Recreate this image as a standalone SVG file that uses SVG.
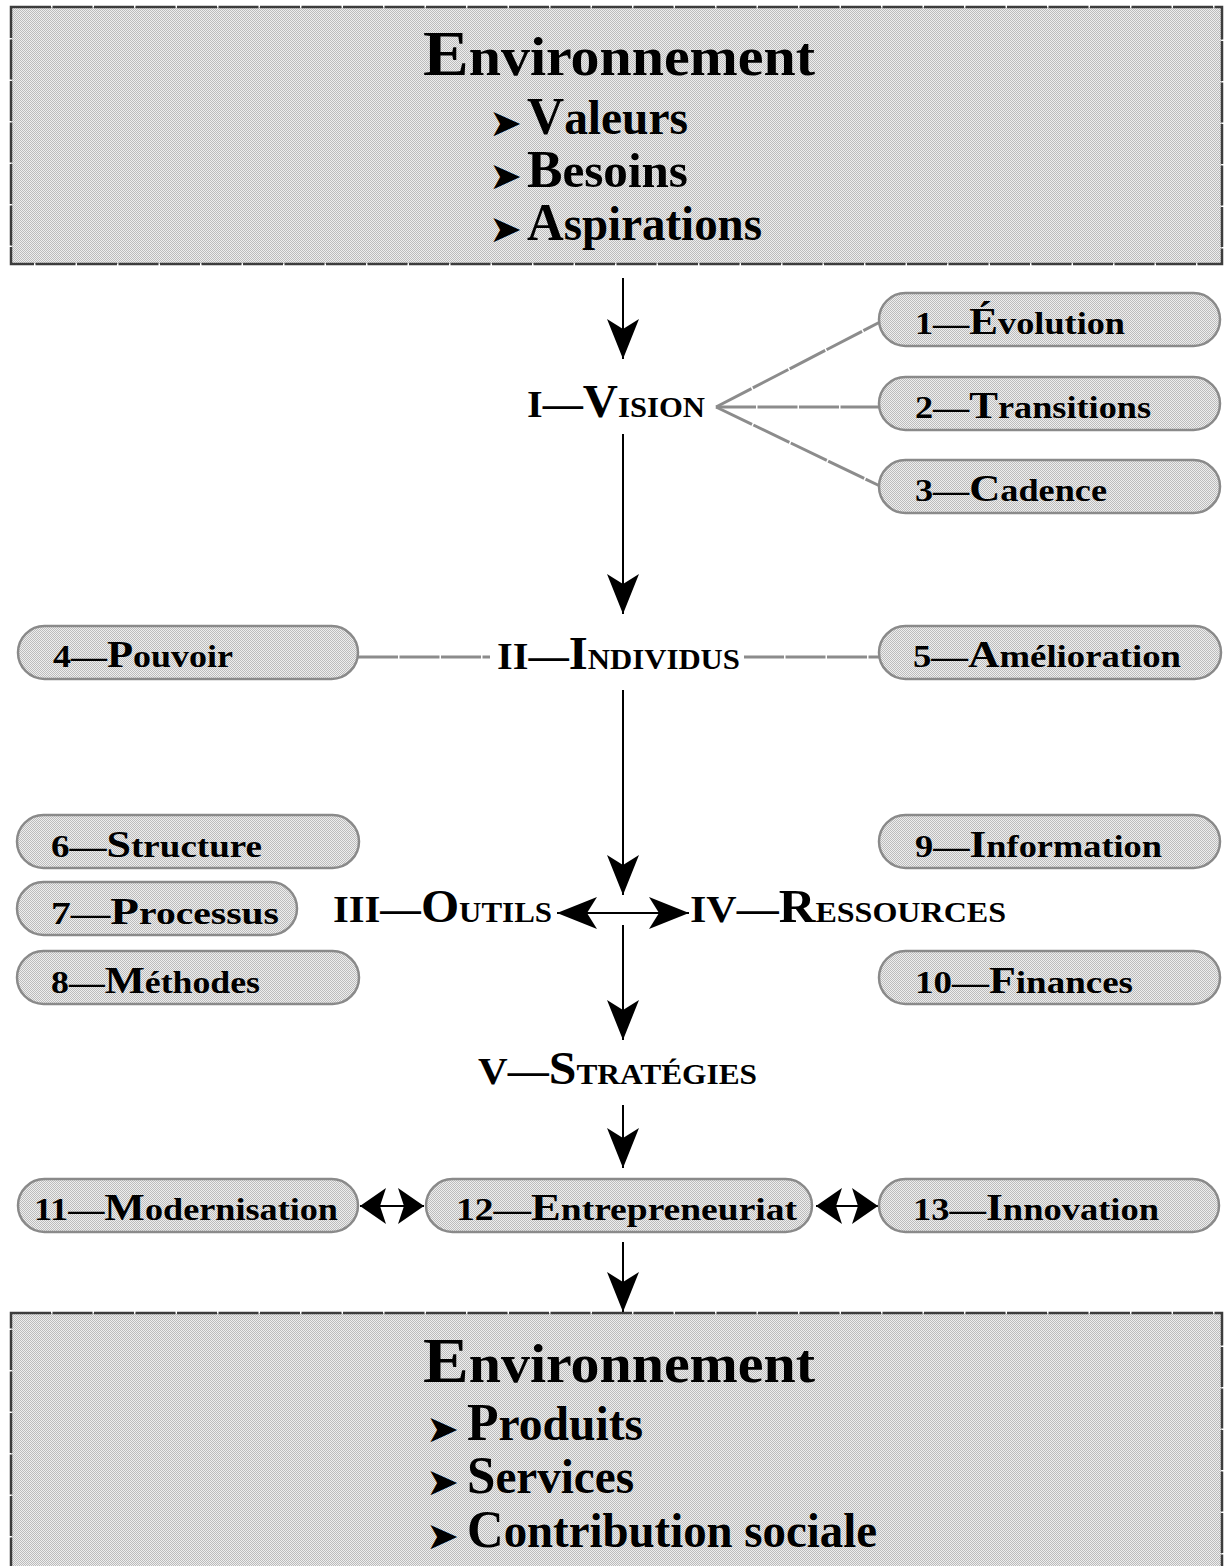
<svg xmlns="http://www.w3.org/2000/svg" width="1231" height="1566" viewBox="0 0 1231 1566">
<style>
  text { font-family: "Liberation Serif", "Times New Roman", serif; fill: #000; }
  .env { font-weight: bold; font-size: 54px; }
  .envcap { font-size: 64px; }
  .item { font-weight: bold; font-size: 48px; }
  .itemcap { font-size: 52px; }
  .bullet { font-family: "DejaVu Sans", sans-serif; font-size: 38px; }
  .hd { font-weight: bold; font-size: 38px; }
  .hdbig { font-size: 46px; }
  .hdsc { font-size: 29px; }
  .lbl { font-weight: bold; font-size: 32px; }
  .lblcap { font-size: 38px; }
  .bigbox { fill: url(#dots); stroke: #3c3c3c; stroke-width: 2.5; stroke-dasharray: 40 1.5; }
  .pill { fill: url(#dots); stroke: #8a8a8a; stroke-width: 2.5; }
  .gray { stroke: #8c8c8c; stroke-width: 3; fill: none; stroke-dasharray: 40 1.5; }
  .arrow { stroke: #000; stroke-width: 2; fill: none; }
</style>
<defs>
  <pattern id="dots" patternUnits="userSpaceOnUse" x="0" y="0" width="2" height="2">
    <rect width="2" height="2" fill="#eeeeee"/>
    <rect width="1" height="1" fill="#bcbcbc"/>
    <rect x="1" y="1" width="1" height="1" fill="#bcbcbc"/>
  </pattern>
  <marker id="head" markerUnits="userSpaceOnUse" viewBox="0 0 40 32" refX="40" refY="16" markerWidth="40" markerHeight="32" orient="auto-start-reverse">
    <path d="M0,0 L40,16 L0,32 L10,16 z" fill="#000"/>
  </marker>
  <marker id="small" markerUnits="userSpaceOnUse" viewBox="0 0 26 36" refX="26" refY="18" markerWidth="26" markerHeight="36" orient="auto-start-reverse">
    <path d="M0,0 L26,18 L0,36 L6,18 z" fill="#000"/>
  </marker>
</defs>

<g id="env-top">
  <rect class="bigbox" x="11" y="7" width="1211" height="257"/>
  <text class="env" x="423" y="75" textLength="392" lengthAdjust="spacingAndGlyphs"><tspan class="envcap">E</tspan>nvironnement</text>
  <text class="bullet" x="489" y="136" textLength="33" lengthAdjust="spacingAndGlyphs">➤</text>
  <text class="item" x="527" y="134" textLength="161" lengthAdjust="spacingAndGlyphs"><tspan class="itemcap">V</tspan>aleurs</text>
  <text class="bullet" x="489" y="189" textLength="33" lengthAdjust="spacingAndGlyphs">➤</text>
  <text class="item" x="527" y="187" textLength="161" lengthAdjust="spacingAndGlyphs"><tspan class="itemcap">B</tspan>esoins</text>
  <text class="bullet" x="489" y="242" textLength="33" lengthAdjust="spacingAndGlyphs">➤</text>
  <text class="item" x="527" y="240" textLength="235" lengthAdjust="spacingAndGlyphs"><tspan class="itemcap">A</tspan>spirations</text>
</g>

<g id="env-bottom">
  <rect class="bigbox" x="11" y="1313" width="1211" height="270"/>
  <text class="env" x="423" y="1382" textLength="392" lengthAdjust="spacingAndGlyphs"><tspan class="envcap">E</tspan>nvironnement</text>
  <text class="bullet" x="426" y="1442" textLength="33" lengthAdjust="spacingAndGlyphs">➤</text>
  <text class="item" x="467" y="1440" textLength="176" lengthAdjust="spacingAndGlyphs"><tspan class="itemcap">P</tspan>roduits</text>
  <text class="bullet" x="426" y="1495" textLength="33" lengthAdjust="spacingAndGlyphs">➤</text>
  <text class="item" x="467" y="1493" textLength="167" lengthAdjust="spacingAndGlyphs"><tspan class="itemcap">S</tspan>ervices</text>
  <text class="bullet" x="426" y="1549" textLength="33" lengthAdjust="spacingAndGlyphs">➤</text>
  <text class="item" x="467" y="1547" textLength="410" lengthAdjust="spacingAndGlyphs"><tspan class="itemcap">C</tspan>ontribution sociale</text>
</g>

<g id="connectors">
  <line class="arrow" x1="623" y1="278" x2="623" y2="359" marker-end="url(#head)"/>
  <line class="arrow" x1="623" y1="434" x2="623" y2="614" marker-end="url(#head)"/>
  <line class="arrow" x1="623" y1="690" x2="623" y2="895" marker-end="url(#head)"/>
  <line class="arrow" x1="557" y1="913" x2="689" y2="913" marker-start="url(#head)" marker-end="url(#head)"/>
  <line class="arrow" x1="623" y1="925" x2="623" y2="1040" marker-end="url(#head)"/>
  <line class="arrow" x1="623" y1="1105" x2="623" y2="1168" marker-end="url(#head)"/>
  <line class="arrow" x1="623" y1="1242" x2="623" y2="1312" marker-end="url(#head)"/>
  <line class="arrow" x1="360" y1="1206" x2="424" y2="1206" marker-start="url(#small)" marker-end="url(#small)"/>
  <line class="arrow" x1="816" y1="1206" x2="878" y2="1206" marker-start="url(#small)" marker-end="url(#small)"/>
  <line class="gray" x1="716" y1="407" x2="880" y2="322"/>
  <line class="gray" x1="716" y1="407" x2="880" y2="407"/>
  <line class="gray" x1="716" y1="407" x2="880" y2="486"/>
  <line class="gray" x1="358" y1="657" x2="490" y2="657"/>
  <line class="gray" x1="744" y1="657" x2="879" y2="657"/>
</g>

<g id="vision">
  <text class="hd" x="527" y="417" textLength="178" lengthAdjust="spacingAndGlyphs">I—<tspan class="hdbig">V</tspan><tspan class="hdsc">ISION</tspan></text>
</g>
<g id="individus">
  <text class="hd" x="497" y="669" textLength="243" lengthAdjust="spacingAndGlyphs">II—<tspan class="hdbig">I</tspan><tspan class="hdsc">NDIVIDUS</tspan></text>
</g>
<g id="outils">
  <text class="hd" x="333" y="922" textLength="219" lengthAdjust="spacingAndGlyphs">III—<tspan class="hdbig">O</tspan><tspan class="hdsc">UTILS</tspan></text>
</g>
<g id="ressources">
  <text class="hd" x="690" y="922" textLength="316" lengthAdjust="spacingAndGlyphs">IV—<tspan class="hdbig">R</tspan><tspan class="hdsc">ESSOURCES</tspan></text>
</g>
<g id="strategies">
  <text class="hd" x="478" y="1084" textLength="279" lengthAdjust="spacingAndGlyphs">V—<tspan class="hdbig">S</tspan><tspan class="hdsc">TRATÉGIES</tspan></text>
</g>

<g id="n1">
  <rect class="pill" x="879" y="293" width="341" height="53" rx="26.5"/>
  <text class="lbl" x="915" y="334" textLength="210" lengthAdjust="spacingAndGlyphs">1—<tspan class="lblcap">É</tspan>volution</text>
</g>
<g id="n2">
  <rect class="pill" x="879" y="377" width="341" height="53" rx="26.5"/>
  <text class="lbl" x="915" y="418" textLength="236" lengthAdjust="spacingAndGlyphs">2—<tspan class="lblcap">T</tspan>ransitions</text>
</g>
<g id="n3">
  <rect class="pill" x="879" y="460" width="341" height="53" rx="26.5"/>
  <text class="lbl" x="915" y="501" textLength="192" lengthAdjust="spacingAndGlyphs">3—<tspan class="lblcap">C</tspan>adence</text>
</g>
<g id="n4">
  <rect class="pill" x="18" y="626" width="340" height="53" rx="26.5"/>
  <text class="lbl" x="53" y="667" textLength="180" lengthAdjust="spacingAndGlyphs">4—<tspan class="lblcap">P</tspan>ouvoir</text>
</g>
<g id="n5">
  <rect class="pill" x="879" y="626" width="342" height="53" rx="26.5"/>
  <text class="lbl" x="913" y="667" textLength="268" lengthAdjust="spacingAndGlyphs">5—<tspan class="lblcap">A</tspan>mélioration</text>
</g>
<g id="n6">
  <rect class="pill" x="17" y="815" width="342" height="53" rx="26.5"/>
  <text class="lbl" x="51" y="857" textLength="211" lengthAdjust="spacingAndGlyphs">6—<tspan class="lblcap">S</tspan>tructure</text>
</g>
<g id="n7">
  <rect class="pill" x="17" y="882" width="280" height="53" rx="26.5"/>
  <text class="lbl" x="51" y="924" textLength="228" lengthAdjust="spacingAndGlyphs">7—<tspan class="lblcap">P</tspan>rocessus</text>
</g>
<g id="n8">
  <rect class="pill" x="17" y="951" width="342" height="53" rx="26.5"/>
  <text class="lbl" x="51" y="993" textLength="209" lengthAdjust="spacingAndGlyphs">8—<tspan class="lblcap">M</tspan>éthodes</text>
</g>
<g id="n9">
  <rect class="pill" x="879" y="815" width="341" height="53" rx="26.5"/>
  <text class="lbl" x="915" y="857" textLength="247" lengthAdjust="spacingAndGlyphs">9—<tspan class="lblcap">I</tspan>nformation</text>
</g>
<g id="n10">
  <rect class="pill" x="879" y="951" width="341" height="53" rx="26.5"/>
  <text class="lbl" x="915" y="993" textLength="218" lengthAdjust="spacingAndGlyphs">10—<tspan class="lblcap">F</tspan>inances</text>
</g>
<g id="n11">
  <rect class="pill" x="18" y="1179" width="340" height="53" rx="26.5"/>
  <text class="lbl" x="34" y="1220" textLength="304" lengthAdjust="spacingAndGlyphs">11—<tspan class="lblcap">M</tspan>odernisation</text>
</g>
<g id="n12">
  <rect class="pill" x="426" y="1179" width="386" height="53" rx="26.5"/>
  <text class="lbl" x="456" y="1220" textLength="341" lengthAdjust="spacingAndGlyphs">12—<tspan class="lblcap">E</tspan>ntrepreneuriat</text>
</g>
<g id="n13">
  <rect class="pill" x="879" y="1179" width="340" height="53" rx="26.5"/>
  <text class="lbl" x="913" y="1220" textLength="246" lengthAdjust="spacingAndGlyphs">13—<tspan class="lblcap">I</tspan>nnovation</text>
</g>
</svg>
